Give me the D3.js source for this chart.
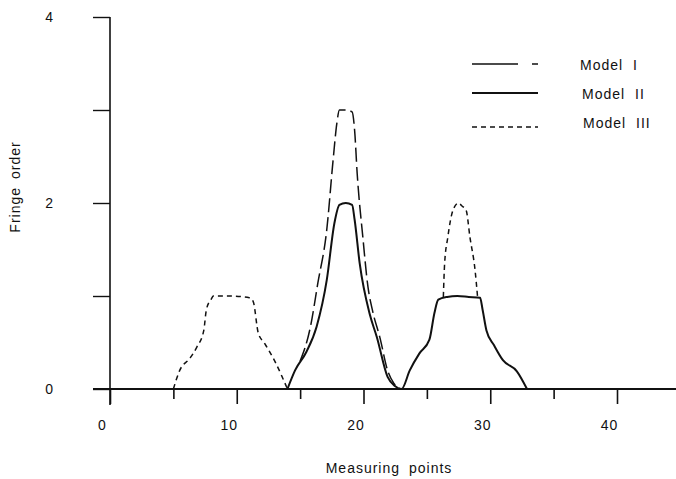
<!DOCTYPE html>
<html>
<head>
<meta charset="utf-8">
<script src="https://cdn.jsdelivr.net/npm/d3@7"></script>
<style>
  body { margin: 0; background: #fff; }
  svg { display: block; }
  text { font-family: "Liberation Sans", Arial, sans-serif; fill: #111; font-size: 14px; letter-spacing: 1px; }
</style>
</head>
<body>
<svg id="chart" width="676" height="479"></svg>
<script>
'use strict';

// axis ticks
const xTicks = [0, 5, 10, 15, 20, 25, 30, 35, 40];
const xLabels = [0, 10, 20, 30, 40];
const yTicks = [0, 1, 2, 3, 4];
const yLabels = [0, 2, 4];

// Model I (long dash) - central peak
const model1X = [15.0, 15.8, 16.4, 17.1, 17.6, 17.9, 18.1, 18.6, 19.1, 19.3, 19.5, 19.95, 20.35, 20.7, 21.3, 21.9, 22.4, 22.9];
const model1Y = [0.3, 0.66, 1.14, 1.71, 2.46, 2.86, 3.0, 3.0, 2.98, 2.78, 2.32, 1.63, 1.1, 0.85, 0.55, 0.2, 0.06, 0];

// Model II (solid)
const model2X = [14.0, 14.6, 15.5, 16.3, 17.1, 17.7, 18.1, 18.6, 19.1, 19.3, 19.7, 20.5, 21.05, 21.9, 22.5, 23.0, 23.65, 24.4, 25.2, 25.6, 25.9, 26.6, 27.4, 28.3, 29.2, 29.4, 29.7, 30.3, 31.0, 32.1, 32.9];
const model2Y = [0, 0.2, 0.4, 0.67, 1.17, 1.78, 1.98, 2.0, 1.98, 1.82, 1.35, 0.8, 0.56, 0.13, 0.03, 0, 0.2, 0.38, 0.53, 0.82, 0.96, 0.99, 1.0, 0.99, 0.98, 0.85, 0.63, 0.47, 0.31, 0.19, 0];

// Model III (short dash) - two humps, null marks the gap
const model3X = [5.0, 5.5, 6.3, 6.85, 7.4, 7.6, 8.0, 8.15, 9.5, 11.0, 11.3, 11.7, 12.2, 13.0, 14.0, null, 26.3, 26.4, 26.65, 27.05, 27.5, 27.75, 28.1, 28.4, 28.8, 29.0];
const model3Y = [0, 0.2, 0.33, 0.45, 0.63, 0.85, 0.97, 1.0, 1.0, 0.98, 0.94, 0.6, 0.49, 0.3, 0, null, 0.99, 1.35, 1.63, 1.92, 2.0, 1.97, 1.92, 1.63, 1.28, 0.99];

const seriesNames = ['Model I', 'Model II', 'Model III'];
const dashes = ['14,5', null, '5,4'];
const widths = [1.5, 2, 1.5];

const zip = (xs, ys) => xs.map((v, i) => ({ x: v, y: ys[i] }));
const series = [zip(model1X, model1Y), zip(model2X, model2Y), zip(model3X, model3Y)];

const svg = d3.select('#chart');

const x = d3.scaleLinear().domain([0, 40]).range([110, 617]);
const y = d3.scaleLinear().domain([0, 4]).range([389, 17]);

// x axis
const xAxis = svg.append('g')
  .attr('transform', 'translate(0,' + y(0) + ')')
  .call(d3.axisBottom(x).tickValues(xTicks).tickSize(15).tickPadding(16)
    .tickFormat((d) => (xLabels.includes(d) ? d : '')));
xAxis.select('.domain').remove();
xAxis.selectAll('.tick line')
  .attr('y2', (d) => (d % 10 === 0 ? 15 : 10))
  .attr('stroke', '#111')
  .attr('stroke-width', 1.6);
xAxis.selectAll('.tick text')
  .attr('x', -8)
  .style('font-size', '14px');
svg.append('line')
  .attr('x1', 93).attr('x2', 676)
  .attr('y1', y(0)).attr('y2', y(0))
  .attr('stroke', '#111').attr('stroke-width', 1.8);

// y axis
const yAxis = svg.append('g')
  .attr('transform', 'translate(' + x(0) + ',0)')
  .call(d3.axisLeft(y).tickValues(yTicks).tickSize(17).tickPadding(39)
    .tickFormat((d) => (yLabels.includes(d) ? d : '')));
yAxis.select('.domain').remove();
yAxis.selectAll('.tick line').attr('stroke', '#111').attr('stroke-width', 1.4);
yAxis.selectAll('.tick text').style('font-size', '14px');
svg.append('line')
  .attr('x1', x(0)).attr('x2', x(0))
  .attr('y1', y(4)).attr('y2', y(0) + 16)
  .attr('stroke', '#111').attr('stroke-width', 1.6);

// axis titles
svg.append('text')
  .attr('x', 389).attr('y', 473)
  .attr('text-anchor', 'middle')
  .style('word-spacing', '4px')
  .text('Measuring points');
svg.append('text')
  .attr('transform', 'translate(20,187) rotate(-90)')
  .attr('text-anchor', 'middle')
  .style('word-spacing', '3px')
  .text('Fringe order');

// curves
const line = d3.line()
  .defined((d) => d.x !== null)
  .x((d) => x(d.x))
  .y((d) => y(d.y))
  .curve(d3.curveMonotoneX);

svg.append('g')
  .selectAll('path')
  .data(series)
  .enter()
  .append('path')
  .attr('d', line)
  .attr('fill', 'none')
  .attr('stroke', '#111')
  .attr('stroke-width', (d, i) => widths[i])
  .attr('stroke-dasharray', (d, i) => dashes[i])
  .attr('stroke-linejoin', 'round');

// legend
const legendLineY = [64, 93, 127];
const legendTextY = [65, 94, 123];
const legendTextX = [580, 582, 583];

const legend = svg.append('g')
  .selectAll('g')
  .data(seriesNames)
  .enter()
  .append('g');

legend.append('line')
  .attr('x1', 472).attr('x2', 538)
  .attr('y1', (d, i) => legendLineY[i]).attr('y2', (d, i) => legendLineY[i])
  .attr('stroke', '#111')
  .attr('stroke-width', (d, i) => widths[i] - 0.2)
  .attr('stroke-dasharray', (d, i) => (i === 0 ? '46,14,8' : dashes[i]));

legend.append('text')
  .attr('x', (d, i) => legendTextX[i])
  .attr('y', (d, i) => legendTextY[i])
  .attr('dy', '0.35em')
  .style('word-spacing', '5px')
  .text((d) => d);
</script>
</body>
</html>
